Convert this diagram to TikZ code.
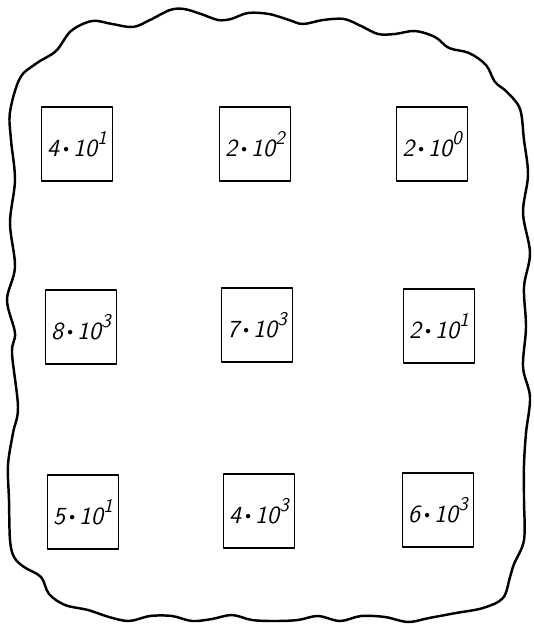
\documentclass[tikz,border=0pt]{standalone}
\usetikzlibrary{calc}

\newcommand{\dotsep}{\,$\vcenter{\hbox{\scalebox{0.45}{$\bullet$}}}$\,}

\begin{document}
\begin{tikzpicture}[
  x=0.02cm,y=-0.02cm,
  line cap=round,line join=round,
  cell/.style={draw,line width=1.1pt,minimum width=1.42cm,minimum height=1.48cm,
    inner sep=0pt,font=\sffamily\slshape\fontsize{14}{16}\selectfont},
  blob/.style={draw,line width=1.4pt,smooth cycle,tension=0.55}
]
\useasboundingbox (0,0) rectangle (533,624);

% Wavy enclosing outline
\draw[blob] plot coordinates {
  (13,433) (18,407) (12,353) (15,333) (7,300) (15,267) (10,223) (15,180)
  (11,140) (10,112) (20,78) (37,63) (56,51) (71,31) (92,21) (112,24)
  (133,27) (150,20) (170,10) (184,9) (201,14) (218,20) (231,19) (248,13)
  (269,14) (289,20) (303,24) (323,20) (344,19) (361,26) (378,34) (395,34)
  (415,31) (435,37) (449,48) (469,53) (486,65) (495,82) (507,92) (520,109)
  (524,140) (528,175)
  (523,213) (530,253) (524,287) (526,327) (523,367) (530,397) (526,433)
  (524,465) (524,500) (524,540) (514,564) (510,577) (503,598) (483,608)
  (456,613) (429,618) (408,622) (385,617) (361,616) (340,621) (318,616)
  (298,620) (275,621) (252,620) (232,615) (212,619) (192,621) (172,616)
  (150,616) (129,621) (109,617) (88,610) (65,605) (49,594) (41,577)
  (24,567) (14,557) (10,540) (9,500) (8,465)};

% Grid of measured values
\foreach \name/\x/\y/\val/\ex in {
  c11/77/144/4/1, c12/255/144/2/2, c13/432/144/2/0,
  c21/81/327/8/3, c22/257/325/7/3, c23/439/326/2/1,
  c31/83/512/5/1, c32/259/511/4/3, c33/438/510/6/3}{
  \node[cell] (\name) at (\x,\y)
    {\val\dotsep10\raisebox{1.1ex}{\fontsize{11}{12}\selectfont\ex}};
}

\end{tikzpicture}
\end{document}
